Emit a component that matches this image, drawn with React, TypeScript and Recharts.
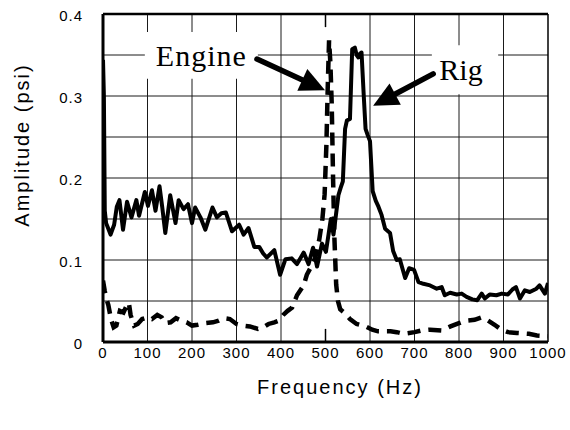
import React from 'react';
import {
  LineChart,
  Line,
  XAxis,
  YAxis,
  CartesianGrid,
  ReferenceLine,
  ReferenceArea,
} from 'recharts';

// Rig (solid) spectrum: [frequency Hz, amplitude psi]
const rigPoints: [number, number][] = [
  [0, 0.344], [2, 0.3], [4, 0.16], [7, 0.145], [12, 0.138], [17, 0.131], [25, 0.143],
  [31, 0.165], [37, 0.173], [45, 0.137], [54, 0.171], [64, 0.152], [75, 0.173], [81, 0.154],
  [94, 0.183], [101, 0.166], [110, 0.185], [118, 0.16], [127, 0.19], [133, 0.165], [140, 0.133],
  [151, 0.179], [163, 0.145], [170, 0.173], [181, 0.162], [191, 0.168], [200, 0.145], [207, 0.164],
  [219, 0.152], [230, 0.137], [246, 0.164], [256, 0.152], [266, 0.157], [276, 0.158], [290, 0.135],
  [306, 0.143], [316, 0.131], [327, 0.139], [340, 0.116], [351, 0.116], [360, 0.108], [368, 0.103],
  [385, 0.112], [398, 0.082], [410, 0.101], [424, 0.102], [436, 0.095], [451, 0.109], [462, 0.095],
  [472, 0.115], [481, 0.092], [492, 0.12], [501, 0.11], [512, 0.15], [518, 0.131], [529, 0.179],
  [534, 0.188], [539, 0.196], [544, 0.26], [548, 0.27], [555, 0.272], [560, 0.357], [566, 0.359],
  [570, 0.35], [574, 0.347], [578, 0.352], [581, 0.353], [586, 0.3], [590, 0.26], [595, 0.252],
  [600, 0.245], [606, 0.184], [613, 0.172], [619, 0.165], [626, 0.155], [634, 0.138], [645, 0.133],
  [652, 0.111], [660, 0.1], [667, 0.101], [679, 0.078], [688, 0.09], [699, 0.088], [709, 0.073],
  [720, 0.071], [735, 0.069], [750, 0.065], [761, 0.067], [768, 0.057], [780, 0.06], [795, 0.058],
  [806, 0.059], [817, 0.055], [830, 0.052], [841, 0.051], [851, 0.059], [858, 0.053], [869, 0.058],
  [884, 0.057], [896, 0.059], [910, 0.058], [920, 0.064], [928, 0.067], [937, 0.053], [948, 0.063],
  [959, 0.061], [974, 0.065], [981, 0.069], [993, 0.059], [1000, 0.072],
];

// Engine (dashed) spectrum: [frequency Hz, amplitude psi]
const enginePoints: [number, number][] = [
  [0, 0.075], [4, 0.062], [8, 0.052], [12, 0.045], [18, 0.028], [24, 0.018], [30, 0.02],
  [38, 0.038], [46, 0.036], [53, 0.044], [58, 0.048], [62, 0.033], [70, 0.02], [78, 0.022],
  [88, 0.028], [100, 0.03], [110, 0.028], [122, 0.033], [132, 0.03], [140, 0.023], [152, 0.024],
  [164, 0.029], [176, 0.026], [188, 0.024], [200, 0.02], [213, 0.021], [230, 0.023], [247, 0.024],
  [260, 0.026], [272, 0.029], [285, 0.028], [300, 0.022], [315, 0.02], [330, 0.019], [348, 0.016],
  [360, 0.018], [372, 0.022], [385, 0.024], [395, 0.026], [405, 0.033], [415, 0.038], [425, 0.042],
  [436, 0.057], [451, 0.069], [458, 0.082], [468, 0.092], [477, 0.103], [486, 0.125], [493, 0.15],
  [498, 0.18], [502, 0.24], [505, 0.31], [508, 0.368], [511, 0.34], [514, 0.29], [517, 0.2],
  [520, 0.127], [524, 0.07], [528, 0.05], [533, 0.04], [544, 0.035], [555, 0.028], [570, 0.022],
  [590, 0.019], [605, 0.015], [618, 0.013], [646, 0.013], [660, 0.012], [675, 0.01], [700, 0.012],
  [715, 0.014], [735, 0.015], [761, 0.014], [781, 0.019], [800, 0.023], [815, 0.026], [835, 0.027],
  [850, 0.03], [860, 0.028], [880, 0.021], [895, 0.015], [910, 0.012], [930, 0.011], [957, 0.01],
  [975, 0.008], [1000, 0.007],
];

const xTicks = [0, 100, 200, 300, 400, 500, 600, 700, 800, 900, 1000];
const yTicks = [0, 0.1, 0.2, 0.3, 0.4];
const gridX = [100, 200, 300, 400, 600, 700, 800, 900];
const gridY = [0.05, 0.1, 0.15, 0.2, 0.25, 0.3, 0.35];

const rigData = rigPoints.map(([freq, amp]) => ({ freq, amp }));
const engineData = enginePoints.map(([freq, amp]) => ({ freq, amp }));

const SANS = '"Liberation Sans", Arial, Helvetica, sans-serif';
const SERIF = '"Liberation Serif", "Times New Roman", serif';

const XTick = (props: any) => {
  const { x, y, payload } = props;
  return (
    <text x={x} y={y} dy={16} textAnchor="middle" fontSize={15} fontFamily={SANS} fill="#000" letterSpacing={1}>
      {String(payload.value)}
    </text>
  );
};

const YTick = (props: any) => {
  const { x, y, payload } = props;
  const v = payload.value as number;
  return (
    <text x={x} y={y} dy={7} textAnchor="end" fontSize={15} fontFamily={SANS} fill="#000" letterSpacing={1}>
      {v === 0 ? '0' : v.toFixed(1)}
    </text>
  );
};

const Arrow = (props: any) => {
  const { x1, y1, x2, y2 } = props;
  const dx = x2 - x1;
  const dy = y2 - y1;
  const len = Math.hypot(dx, dy) || 1;
  const ux = dx / len;
  const uy = dy / len;
  const headLen = 25;
  const headW = 12;
  const bx = x2 - ux * headLen;
  const by = y2 - uy * headLen;
  return (
    <g>
      <line x1={x1} y1={y1} x2={bx + ux * 2} y2={by + uy * 2} stroke="#000" strokeWidth={5.5} strokeLinecap="round" />
      <polygon
        points={`${x2},${y2} ${bx - uy * headW},${by + ux * headW} ${bx + uy * headW},${by - ux * headW}`}
        fill="#000"
      />
    </g>
  );
};

export default function App() {
  return (
    <div style={{ position: 'absolute', left: 0, top: 0, background: '#fff' }}>
      <LineChart width={570} height={430} margin={{ top: 14, right: 22, bottom: 0, left: 0 }}>
        <CartesianGrid
          horizontalValues={gridY}
          verticalValues={gridX}
          stroke="#1a1a1a"
          strokeWidth={1}
        />
        <XAxis
          dataKey="freq"
          type="number"
          domain={[0, 1000]}
          ticks={xTicks}
          interval={0}
          height={88}
          tickSize={0}
          tickMargin={0}
          tickLine={false}
          axisLine={{ stroke: '#000', strokeWidth: 3 }}
          tick={<XTick />}
          allowDataOverflow
          label={{
            content: (p: any) => {
              const vb = p.viewBox || { x: 103, y: 342 };
              return (
                <text
                  x={vb.x + 237}
                  y={vb.y + 52}
                  textAnchor="middle"
                  fontSize={20}
                  letterSpacing={2}
                  fontFamily={SANS}
                  fill="#000"
                >
                  Frequency (Hz)
                </text>
              );
            },
          }}
        />
        <YAxis
          type="number"
          domain={[0, 0.4]}
          ticks={yTicks}
          interval={0}
          width={103}
          tickSize={0}
          tickMargin={20}
          tickLine={false}
          axisLine={{ stroke: '#000', strokeWidth: 3 }}
          tick={<YTick />}
          allowDataOverflow
          label={{
            content: (p: any) => {
              const vb = p.viewBox || { x: 0, y: 14 };
              const cx = vb.x + 22;
              const cy = vb.y + 131;
              return (
                <text
                  x={cx}
                  y={cy}
                  transform={`rotate(-90 ${cx} ${cy})`}
                  dy={7}
                  textAnchor="middle"
                  fontSize={20}
                  letterSpacing={2}
                  fontFamily={SANS}
                  fill="#000"
                >
                  Amplitude (psi)
                </text>
              );
            },
          }}
        />
        <ReferenceLine y={0.4} stroke="#000" strokeWidth={2.5} />
        <ReferenceLine x={1000} stroke="#000" strokeWidth={1.5} />
        <ReferenceLine segment={[{ x: 500, y: 0 }, { x: 500, y: 0.016 }]} stroke="#000" strokeWidth={1.5} />
        <ReferenceLine segment={[{ x: 500, y: 0.4 }, { x: 500, y: 0.384 }]} stroke="#000" strokeWidth={1.5} />
        <ReferenceArea
          x1={94}
          x2={348}
          y1={0.321}
          y2={0.378}
          fill="#fff"
          fillOpacity={1}
          stroke="none"
          label={{ value: 'Engine', position: 'center', fontSize: 30, fontFamily: SERIF, fill: '#000', letterSpacing: 1 }}
        />
        <ReferenceArea
          x1={739}
          x2={888}
          y1={0.302}
          y2={0.362}
          fill="#fff"
          fillOpacity={1}
          stroke="none"
          label={{ value: 'Rig', position: 'center', fontSize: 30, fontFamily: SERIF, fill: '#000', dx: -4 }}
        />
        <Line
          data={engineData}
          dataKey="amp"
          type="linear"
          stroke="#000"
          strokeWidth={4.5}
          strokeDasharray="13 8"
          dot={false}
          activeDot={false}
          isAnimationActive={false}
        />
        <Line
          data={rigData}
          dataKey="amp"
          type="linear"
          stroke="#000"
          strokeWidth={4}
          strokeLinejoin="round"
          dot={false}
          activeDot={false}
          isAnimationActive={false}
        />
        <ReferenceLine segment={[{ x: 346, y: 0.345 }, { x: 499, y: 0.307 }]} shape={<Arrow />} />
        <ReferenceLine segment={[{ x: 742, y: 0.327 }, { x: 607, y: 0.288 }]} shape={<Arrow />} />
      </LineChart>
    </div>
  );
}
